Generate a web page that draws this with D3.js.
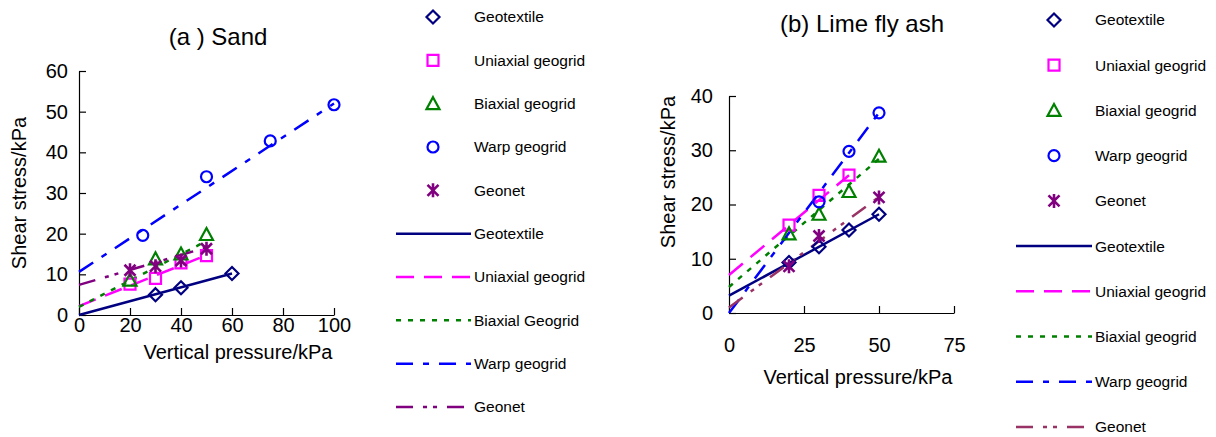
<!DOCTYPE html>
<html>
<head>
<meta charset="utf-8">
<script src="https://cdn.jsdelivr.net/npm/d3@7"></script>
<style>
  body { margin: 0; background: #fff; }
  svg { font-family: "Liberation Sans", Arial, sans-serif; }
</style>
</head>
<body>
<div id="chart"></div>
<script>
// ---------------------------------------- Data ----------------------------------------
const markerLabels = ["Geotextile", "Uniaxial geogrid", "Biaxial geogrid", "Warp geogrid", "Geonet"]
const sandLineLabels = ["Geotextile", "Uniaxial geogrid", "Biaxial Geogrid", "Warp geogrid", "Geonet"]
const limeLineLabels = ["Geotextile", "Uniaxial geogrid", "Biaxial geogrid", "Warp geogrid", "Geonet"]
const markerTypes = ["diamond", "square", "triangle", "circle", "star"]

// (a) Sand
const sandGeotextileX = [30, 40, 60],     sandGeotextileY = [5.0, 6.7, 10.2]
const sandUniaxialX = [20, 30, 40, 50],   sandUniaxialY = [7.6, 9.0, 12.8, 14.6]
const sandBiaxialX = [20, 30, 40, 50],    sandBiaxialY = [8.6, 13.8, 15.0, 19.8]
const sandWarpX = [25, 50, 75, 100],      sandWarpY = [19.6, 34.0, 42.8, 51.7]
const sandGeonetX = [20, 30, 40, 50],     sandGeonetY = [11.0, 12.0, 13.4, 16.3]
// fitted lines: start at x = 0, end at sandFitX1
const sandFitX1 = [60, 50, 50, 100, 50]
const sandFitY0 = [0, 2.2, 2.0, 10.6, 7.4]
const sandFitY1 = [10.2, 14.7, 18.2, 52.0, 16.6]
const sandXTicks = [0, 20, 40, 60, 80, 100]
const sandYTicks = [0, 10, 20, 30, 40, 50, 60]

// (b) Lime fly ash
const limeGeotextileX = [20, 30, 40, 50], limeGeotextileY = [9.3, 12.2, 15.3, 18.2]
const limeUniaxialX = [20, 30, 40],       limeUniaxialY = [16.2, 21.7, 25.4]
const limeBiaxialX = [20, 30, 40, 50],    limeBiaxialY = [14.6, 18.2, 22.4, 28.9]
const limeWarpX = [30, 40, 50],           limeWarpY = [20.5, 29.8, 36.9]
const limeGeonetX = [20, 30, 50],         limeGeonetY = [8.6, 14.2, 21.3]
const limeFitX1 = [50, 40, 50, 50, 50]
const limeFitY0 = [3.2, 7.0, 4.8, 0, 1.0]
const limeFitY1 = [18.2, 25.4, 28.4, 36.9, 21.4]
const limeXTicks = [0, 25, 50, 75]
const limeYTicks = [0, 10, 20, 30, 40]

// ---------------------------------------- Styles ----------------------------------------
const markerColors = ["#000080", "#ff00ff", "#008000", "#0000ff", "#800080"]
const sandLineColors = ["#000080", "#ff00ff", "#008000", "#0000ff", "#800080"]
const limeLineColors = ["#000080", "#ff00ff", "#008000", "#0000ff", "#993366"]
const dashes = [null, "18,10", "5,7", "17,10,6,10", "17,10,4,6,4,10"]

var svg = d3.select("#chart").append("svg")
    .attr("width", 1216)
    .attr("height", 437)

function markerPath(type) {
  if (type === "diamond") return "M0,-6.5L6.5,0L0,6.5L-6.5,0Z"
  if (type === "square") return "M-5.5,-5.5H5.5V5.5H-5.5Z"
  if (type === "triangle") return "M0,-6.5L6.5,5.5L-6.5,5.5Z"
  if (type === "circle") return "M5.5,0A5.5,5.5 0 1,1 -5.5,0A5.5,5.5 0 1,1 5.5,0Z"
  return "M0,-7V7M-5.5,-5.5L5.5,5.5M-5.5,5.5L5.5,-5.5"
}

function drawPanel(p) {
  var x = d3.scaleLinear().domain(p.xDomain).range(p.xRange)
  var y = d3.scaleLinear().domain(p.yDomain).range(p.yRange)
  var g = svg.append("g").attr("class", "panel")

  var xAxis = d3.axisBottom(x).tickValues(p.xTicks).tickSizeInner(-7).tickSizeOuter(0).tickPadding(p.xPad)
  var yAxis = d3.axisLeft(y).tickValues(p.yTicks).tickSizeInner(-7).tickSizeOuter(0).tickPadding(p.yPad)

  g.append("g")
    .attr("transform", "translate(0," + p.yRange[0] + ")")
    .call(xAxis)
    .call(a => a.selectAll("text").attr("font-size", "20px").attr("font-family", null).attr("fill", "#000"))
  g.append("g")
    .attr("transform", "translate(" + p.xRange[0] + ",0)")
    .call(yAxis)
    .call(a => a.selectAll("text").attr("font-size", "20px").attr("font-family", null).attr("fill", "#000"))
  g.selectAll(".domain, .tick line").attr("stroke", "#000").attr("stroke-width", 1.2)

  // fitted lines
  var line = d3.line().x(d => x(d[0])).y(d => y(d[1]))
  p.fitX1.forEach((x1, i) => {
    g.append("path")
      .attr("d", line([[0, p.fitY0[i]], [x1, p.fitY1[i]]]))
      .attr("fill", "none")
      .attr("stroke", p.lineColors[i])
      .attr("stroke-width", 2.5)
      .attr("stroke-dasharray", dashes[i])
  })

  // measured points
  p.pointsX.forEach((xs, i) => {
    g.selectAll(null)
      .data(xs.map((v, j) => [v, p.pointsY[i][j]]))
      .join("path")
      .attr("transform", d => "translate(" + x(d[0]) + "," + y(d[1]) + ")")
      .attr("d", markerPath(markerTypes[i]))
      .attr("fill", "none")
      .attr("stroke", markerColors[i])
      .attr("stroke-width", i === 4 ? 2.6 : 2.2)
  })

  g.append("text")
    .attr("x", p.titleX).attr("y", p.titleY)
    .attr("text-anchor", "middle")
    .attr("font-size", "24px")
    .text(p.title)

  g.append("text")
    .attr("x", p.xLabelX).attr("y", p.xLabelY)
    .attr("text-anchor", "middle")
    .attr("font-size", "20px")
    .text("Vertical pressure/kPa")

  g.append("text")
    .attr("transform", "translate(" + p.yLabelX + "," + p.yLabelY + ") rotate(-90)")
    .attr("text-anchor", "middle")
    .attr("dy", "0.35em")
    .attr("font-size", "20px")
    .text("Shear stress/kPa")

  // legend
  var rows = d3.scaleLinear().domain([0, 9]).range(p.legendY)
  var lg = g.append("g").attr("font-size", "15.5px")
  markerLabels.forEach((t, i) => {
    lg.append("path")
      .attr("transform", "translate(" + p.legendMarkerX + "," + rows(i) + ")")
      .attr("d", markerPath(markerTypes[i]))
      .attr("fill", "none")
      .attr("stroke", markerColors[i])
      .attr("stroke-width", i === 4 ? 2.6 : 2.2)
    lg.append("text").attr("x", p.legendTextX).attr("y", rows(i)).attr("dy", "0.35em").text(t)
  })
  p.lineLabels.forEach((t, i) => {
    lg.append("line")
      .attr("x1", p.legendLine[0]).attr("x2", p.legendLine[1])
      .attr("y1", rows(i + 5)).attr("y2", rows(i + 5))
      .attr("stroke", p.lineColors[i])
      .attr("stroke-width", 2.5)
      .attr("stroke-dasharray", dashes[i])
    lg.append("text").attr("x", p.legendTextX).attr("y", rows(i + 5)).attr("dy", "0.35em").text(t)
  })
}

drawPanel({
  title: "(a ) Sand", titleX: 218, titleY: 45,
  xDomain: [0, 100], xRange: [79, 334], xTicks: sandXTicks, xPad: 3,
  yDomain: [0, 60], yRange: [315, 71], yTicks: sandYTicks, yPad: 11,
  xLabelX: 238, xLabelY: 359, yLabelX: 19, yLabelY: 193,
  pointsX: [sandGeotextileX, sandUniaxialX, sandBiaxialX, sandWarpX, sandGeonetX],
  pointsY: [sandGeotextileY, sandUniaxialY, sandBiaxialY, sandWarpY, sandGeonetY],
  fitX1: sandFitX1, fitY0: sandFitY0, fitY1: sandFitY1, lineColors: sandLineColors,
  lineLabels: sandLineLabels,
  legendY: [17, 407], legendMarkerX: 433, legendTextX: 474, legendLine: [396, 471]
})

drawPanel({
  title: "(b) Lime fly ash", titleX: 862, titleY: 32,
  xDomain: [0, 75], xRange: [729, 954], xTicks: limeXTicks, xPad: 25,
  yDomain: [0, 40], yRange: [313, 96], yTicks: limeYTicks, yPad: 16,
  xLabelX: 858, xLabelY: 384, yLabelX: 668, yLabelY: 172,
  pointsX: [limeGeotextileX, limeUniaxialX, limeBiaxialX, limeWarpX, limeGeonetX],
  pointsY: [limeGeotextileY, limeUniaxialY, limeBiaxialY, limeWarpY, limeGeonetY],
  fitX1: limeFitX1, fitY0: limeFitY0, fitY1: limeFitY1, lineColors: limeLineColors,
  lineLabels: limeLineLabels,
  legendY: [20, 427], legendMarkerX: 1054, legendTextX: 1095, legendLine: [1016, 1092]
})
</script>
</body>
</html>
